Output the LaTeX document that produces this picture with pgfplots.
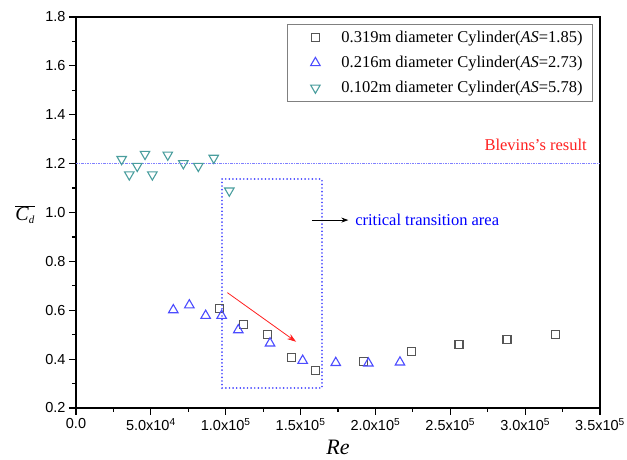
\documentclass[border=0pt]{standalone}
\usepackage{fontspec}
\setmainfont{Liberation Serif}
\newfontfamily\arial{Liberation Sans}
\usepackage{pgfplots}
\pgfplotsset{compat=1.18}
\usetikzlibrary{arrows.meta}
\definecolor{sqc}{HTML}{555555}
\definecolor{upc}{HTML}{4C4CFF}
\definecolor{dnc}{HTML}{4A9E9E}
\definecolor{boxc}{HTML}{4848FF}
\definecolor{linec}{HTML}{8080FF}
\definecolor{redc}{HTML}{FF2020}
\begin{document}
\begin{tikzpicture}
\useasboundingbox (-76pt,-52pt) rectangle (551pt,408pt);
\begin{axis}[
  scale only axis, width=524pt, height=391pt,
  xmin=0, xmax=350000, ymin=0.2, ymax=1.8,
  axis line style={line width=1.3pt},
  tick style={black, line width=1.2pt},
  major tick length=7pt, minor tick length=4pt,
  tick align=outside,
  xtick pos=lower, ytick pos=left,
  xtick={0,50000,100000,150000,200000,250000,300000,350000},
  xticklabels={0.0,5.0x10\textsuperscript{4},1.0x10\textsuperscript{5},1.5x10\textsuperscript{5},2.0x10\textsuperscript{5},2.5x10\textsuperscript{5},3.0x10\textsuperscript{5},3.5x10\textsuperscript{5}},
  ytick={0.2,0.4,0.6,0.8,1.0,1.2,1.4,1.6,1.8},
  yticklabels={0.2,0.4,0.6,0.8,1.0,1.2,1.4,1.6,1.8},
  minor x tick num=1, minor y tick num=1,
  scaled x ticks=false,
  tick label style={font=\arial\fontsize{14.5}{15}\selectfont},
  xlabel={\textit{Re}},
  ylabel={$\overline{\mbox{\textit{C}}_{\mbox{\fontsize{11}{11}\selectfont\textit{d}}}}$},
  every axis x label/.style={at={(rel axis cs:0.5,0)}, anchor=center, yshift=-39pt, font=\fontsize{22}{22}\selectfont},
  every axis y label/.style={at={(rel axis cs:-0.097,0.494)}, anchor=center, font=\fontsize{20}{20}\selectfont},
  legend style={at={(rel axis cs:0.9866,0.982)}, anchor=north east, draw=gray, line width=0.8pt,
    font=\fontsize{16.5}{18}\selectfont, row sep=8pt, inner xsep=8pt, inner ysep=5pt},
  legend image code/.code={\path[draw=none] (0pt,0pt) -- (44pt,0pt); \draw[only marks] plot coordinates {(20pt,0pt)};},
  legend cell align=left,
]
\addplot[only marks, mark=square, mark size=4pt, mark options={sqc, line width=1.1pt, solid}] coordinates {
(95700,0.606) (111800,0.542) (127800,0.502) (143800,0.405) (159900,0.353)
(191900,0.391) (223800,0.432) (255800,0.461) (287900,0.481) (320000,0.500)};
\addlegendentry{0.319m diameter Cylinder(\textit{AS}=1.85)}
\addplot[only marks, mark=triangle, mark size=5.5pt, mark options={upc, line width=1.1pt, solid}] coordinates {
(65000,0.601) (75700,0.621) (86600,0.578) (97300,0.578) (108400,0.519)
(129600,0.465) (151400,0.394) (173500,0.385) (195300,0.383) (216400,0.387)};
\addlegendentry{0.216m diameter Cylinder(\textit{AS}=2.73)}
\addplot[only marks, mark=triangle, mark size=5.5pt, mark options={dnc, line width=1.1pt, solid, rotate=180}] coordinates {
(30500,1.218) (35600,1.155) (40900,1.190) (46100,1.239) (51000,1.155)
(61300,1.236) (71700,1.201) (81700,1.190) (92000,1.223) (102400,1.089)};
\addlegendentry{0.102m diameter Cylinder(\textit{AS}=5.78)}
\addplot[linec, line width=0.9pt, dash pattern=on 2.5pt off 1pt on 1pt off 1pt, forget plot] coordinates {(0,1.2) (350000,1.2)};
\draw[boxc, line width=1.8pt, line cap=round, dash pattern=on 0.01pt off 3.6pt] (axis cs:97300,0.281) rectangle (axis cs:164100,1.136);
\draw[black, line width=0.8pt, -{Stealth[length=7pt,width=5pt]}] (axis cs:157500,0.969) -- (axis cs:181900,0.969);
\node[anchor=west, text=blue, font=\fontsize{16.5}{18}\selectfont, inner sep=0pt] at (axis cs:186400,0.969) {critical transition area};
\draw[redc, line width=0.8pt, -{Stealth[length=9pt,width=6pt]}] (axis cs:101100,0.672) -- (axis cs:147000,0.471);
\node[anchor=east, text=redc, font=\fontsize{16.5}{18}\selectfont, inner sep=0pt] at (axis cs:341300,1.276) {Blevins's result};
\end{axis}
\end{tikzpicture}
\end{document}
